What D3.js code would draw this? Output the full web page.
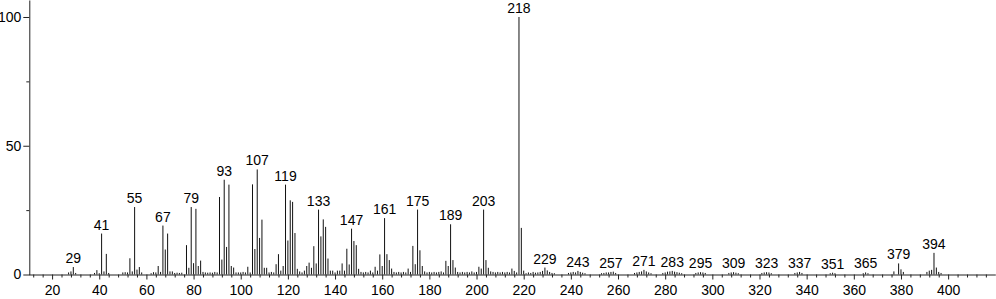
<!DOCTYPE html>
<html>
<head>
<meta charset="utf-8">
<script src="https://cdn.jsdelivr.net/npm/d3@7"></script>
<style>
  html, body { margin: 0; padding: 0; background: #fff; }
  svg { display: block; }
  text { font-family: "Liberation Sans", Arial, sans-serif; }
</style>
</head>
<body>
<svg id="chart" width="996" height="299"></svg>
<script>
// m/z values and relative intensities (%)
const masses = [
  27, 28, 29, 30, 38, 39, 40, 41, 42, 43, 44,
  50, 51, 52, 53, 54, 55, 56, 57, 58,
  62, 63, 64, 65, 66, 67, 68, 69, 70, 71, 72, 73, 74, 75,
  77, 78, 79, 80, 81, 82, 83, 84, 85, 86, 87, 88, 89, 90,
  91, 92, 93, 94, 95, 96, 97, 98, 99, 100, 101, 102, 103, 104,
  105, 106, 107, 108, 109, 110, 111, 112, 113, 114, 115, 116, 117, 118,
  119, 120, 121, 122, 123, 124, 125, 126, 127, 128, 129, 130, 131, 132,
  133, 134, 135, 136, 137, 138, 139, 140, 141, 142, 143, 144, 145, 146,
  147, 148, 149, 150, 151, 152, 153, 154, 155, 156, 157, 158, 159, 160,
  161, 162, 163, 164, 165, 166, 167, 168, 169, 170, 171, 172, 173, 174,
  175, 176, 177, 178, 179, 180, 181, 182, 183, 184, 185, 186, 187, 188,
  189, 190, 191, 192, 193, 194, 195, 196, 197, 198, 199, 200, 201, 202,
  203, 204, 205, 206, 207, 208, 209, 210, 211, 212, 213, 214, 215, 216, 217,
  218, 219, 220, 221, 222, 223, 224, 225, 226, 227, 228, 229, 230, 231, 232, 233,
  239, 240, 241, 242, 243, 244, 245, 246,
  253, 254, 255, 256, 257, 258, 259,
  267, 268, 269, 270, 271, 272, 273, 274,
  279, 280, 281, 282, 283, 284, 285, 286, 287,
  293, 294, 295, 296, 297,
  307, 308, 309, 310, 311,
  321, 322, 323, 324, 325,
  335, 336, 337, 338,
  350, 351, 352,
  364, 365, 366,
  377, 379, 380, 381,
  391, 392, 393, 394, 395, 396, 397
];
const intensities = [
  0.8, 1.2, 2.9, 0.6, 0.6, 1.7, 0.5, 15.9, 1.2, 8.0, 0.6,
  0.8, 0.9, 0.8, 6.3, 1.2, 26.2, 1.9, 2.9, 0.8,
  0.5, 0.9, 0.8, 3.3, 1.0, 19.0, 9.7, 15.9, 1.2, 1.2, 0.6, 0.7, 0.6, 0.7,
  11.4, 2.6, 26.2, 4.4, 25.5, 3.3, 5.4, 1.0, 0.8, 0.7, 0.8, 0.7, 1.0, 0.8,
  30.1, 5.8, 36.8, 10.7, 34.9, 3.3, 2.7, 0.8, 0.8, 0.8, 1.0, 0.8, 3.0, 0.8,
  35.0, 9.9, 40.8, 14.2, 21.3, 2.6, 2.6, 0.8, 1.0, 0.8, 4.0, 7.9, 1.5, 3.3,
  34.9, 13.2, 28.8, 28.2, 16.1, 2.2, 1.2, 0.8, 1.5, 3.3, 4.6, 2.6, 11.0, 4.3,
  25.2, 14.8, 21.4, 18.5, 6.2, 1.5, 1.5, 0.8, 1.5, 1.5, 4.3, 1.5, 10.0, 3.9,
  17.8, 13.0, 11.4, 2.2, 1.0, 0.8, 1.0, 0.8, 1.5, 0.8, 3.0, 1.5, 7.8, 3.3,
  21.9, 7.9, 5.6, 2.3, 1.0, 0.8, 1.0, 0.8, 1.0, 0.8, 2.3, 1.0, 11.1, 4.0,
  25.2, 9.4, 3.3, 1.2, 0.8, 1.0, 0.8, 1.0, 0.8, 1.0, 1.2, 0.8, 5.3, 3.3,
  19.5, 5.6, 2.7, 1.0, 0.8, 1.0, 0.8, 1.0, 0.8, 1.2, 0.8, 1.0, 3.0, 2.3,
  25.2, 5.6, 2.6, 1.2, 1.0, 0.8, 1.0, 0.8, 1.0, 0.8, 1.0, 0.8, 2.3, 1.4, 0.8,
  100, 18.1, 1.5, 0.5, 0.8, 0.6, 1.0, 0.7, 0.8, 1.0, 1.4, 2.7, 1.6, 1.0, 0.6, 0.5,
  0.6, 0.8, 1.0, 0.8, 1.4, 1.0, 0.7, 0.5,
  0.5, 0.6, 0.8, 0.8, 1.0, 1.1, 0.6,
  0.6, 0.8, 1.0, 1.2, 1.8, 1.2, 0.8, 0.5,
  0.6, 0.8, 1.1, 1.2, 1.4, 1.1, 0.9, 0.7, 0.5,
  0.6, 0.8, 0.9, 0.8, 0.6,
  0.6, 0.8, 0.9, 0.7, 0.5,
  0.6, 0.8, 0.9, 0.8, 0.5,
  0.6, 0.8, 1.0, 0.6,
  0.5, 0.7, 0.5,
  0.5, 0.8, 0.5,
  1.2, 4.3, 2.0, 1.0,
  1.0, 1.5, 1.8, 8.4, 2.7, 1.0, 0.6
];
const labeledMasses = [29, 41, 55, 67, 79, 93, 107, 119, 133, 147, 161, 175, 189, 203,
  218, 229, 243, 257, 271, 283, 295, 309, 323, 337, 351, 365, 379, 394];
const xTicks = [20, 40, 60, 80, 100, 120, 140, 160, 180, 200, 220, 240, 260, 280, 300, 320, 340, 360, 380, 400];
const yTicks = [0, 50, 100];
const yMinorTicks = [25, 75];

const peaks = masses.map((m, i) => ({ m, v: intensities[i] }));
const byMass = new Map(peaks.map(p => [p.m, p.v]));

const svg = d3.select("#chart");
const x = d3.scaleLinear().domain([10, 420]).range([28.5, 995.3]);
const y = d3.scaleLinear().domain([0, 106.6]).range([274.5, 0]);
const ink = "#222";

// peaks
svg.append("g")
  .selectAll("line")
  .data(peaks)
  .join("line")
  .attr("x1", d => x(d.m)).attr("x2", d => x(d.m))
  .attr("y1", y(0)).attr("y2", d => y(d.v))
  .attr("stroke", "#111").attr("stroke-width", 1);

// x axis
const minorX = d3.range(12, 420, 4).filter(v => v % 20 !== 0 && v > 10);
const gxMinor = svg.append("g").attr("transform", `translate(0,${y(0)})`)
  .call(d3.axisBottom(x).tickValues(minorX).tickSize(3).tickFormat(""));
gxMinor.select(".domain").remove();
gxMinor.selectAll("line").attr("stroke", ink);

const gx = svg.append("g").attr("transform", `translate(0,${y(0)})`)
  .call(d3.axisBottom(x).tickValues(xTicks).tickSize(5).tickPadding(6).tickSizeOuter(0));
gx.select(".domain").attr("stroke", ink);
gx.selectAll("line").attr("stroke", ink);
gx.selectAll("text").attr("font-size", 14).attr("fill", "#000")
  .style("font-family", '"Liberation Sans", Arial, sans-serif');

// y axis
const gyMinor = svg.append("g").attr("transform", `translate(${x(10) + 0.8},0)`)
  .call(d3.axisLeft(y).tickValues(yMinorTicks).tickSize(3).tickFormat(""));
gyMinor.select(".domain").remove();
gyMinor.selectAll("line").attr("stroke", ink);

const gy = svg.append("g").attr("transform", `translate(${x(10) + 0.8},0)`)
  .call(d3.axisLeft(y).tickValues(yTicks).tickSize(6).tickPadding(2).tickSizeOuter(0));
gy.select(".domain").attr("stroke", ink);
gy.selectAll("line").attr("stroke", ink);
gy.selectAll("text").attr("font-size", 14).attr("fill", "#000")
  .style("font-family", '"Liberation Sans", Arial, sans-serif');

// peak labels
svg.append("g")
  .selectAll("text")
  .data(labeledMasses)
  .join("text")
  .attr("x", d => x(d))
  .attr("y", d => y(byMass.get(d) || 0) - 4)
  .attr("text-anchor", "middle")
  .attr("font-size", 14)
  .attr("fill", "#000")
  .text(d => d);
</script>
</body>
</html>
